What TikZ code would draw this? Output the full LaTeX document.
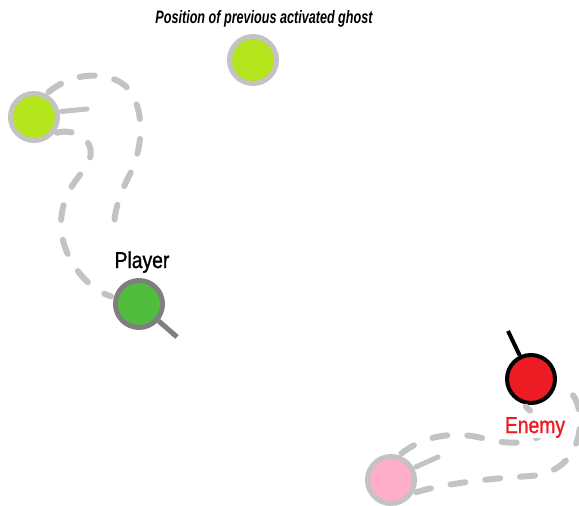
\documentclass[tikz,border=0pt]{standalone}
\usepackage{fontspec}
\usepackage{xcolor}
\usepackage{tikz}
\usetikzlibrary{positioning}
\newfontfamily\tagfont[FakeStretch=0.84, FakeBold=1.2]{Liberation Sans}
\newfontfamily\notefont[FakeStretch=0.7]{Liberation Sans}
\definecolor{ghostGreen}{HTML}{B5E61D}
\definecolor{ghostPink}{HTML}{FFAEC9}
\definecolor{ringGray}{HTML}{C3C3C3}
\definecolor{playerGreen}{HTML}{50BE3C}
\definecolor{playerRing}{HTML}{7F7F7F}
\definecolor{enemyRed}{HTML}{ED1C24}

\begin{document}
\begin{tikzpicture}[
    x=1pt, y=-1pt,
    token/.style={circle, inner sep=0pt, minimum size=47pt, line width=5pt},
    ghost/.style={token, fill=ghostGreen, draw=ringGray},
    trail/.style={draw=ringGray, line width=6pt, line cap=round, dash pattern=on 15pt off 20pt,
                  shorten <=3pt, shorten >=3pt},
    streak/.style={draw=ringGray, line width=5pt, line cap=round, shorten <=2pt},
    nametag/.style={inner sep=0pt, font=\tagfont\fontsize{23}{26}\selectfont},
]
\useasboundingbox (0,0) rectangle (579,506);
\clip (0,0) rectangle (579,506);

% Ghosts
\node[ghost] (ghostA) at (34,117) {};
\node[ghost] (ghostB) at (253,60) {};
\node[token, fill=ghostPink, draw=ringGray] (ghostC) at (391,480) {};
\node[above=7pt of ghostB, xshift=11pt, inner sep=0pt,
      font=\notefont\bfseries\itshape\fontsize{18}{20}\selectfont] (ghostNote) {Position of previous activated ghost};

% Player
\node[token, fill=playerGreen, draw=playerRing] (player) at (139,304) {};
\coordinate (playerAim) at (177,337);
\draw[playerRing, line width=5pt] (player) -- (playerAim);

% Enemy
\node[token, fill=enemyRed, draw=black, line width=4pt, minimum size=48pt] (enemy) at (531,379) {};
\coordinate (enemyAim) at (508,331);
\draw[black, line width=4pt] (enemy) -- (enemyAim);

% Trails
\coordinate (trailEndA) at (119,241);
\coordinate (streakEndA) at (87,109);
\coordinate (streakEndC) at (438,457);
\draw[trail] (ghostA.62) .. controls (75,70) and (115,70) .. (131,92)
    .. controls (145,115) and (143,150) .. (128,178)
    .. controls (117,200) and (110,225) .. (trailEndA);
\draw[trail] (ghostA.-40) .. controls (72,128) and (95,138) .. (90,158)
    .. controls (85,175) and (63,185) .. (61,222)
    .. controls (60,255) and (85,288) .. (player.165);
\draw[streak] (ghostA.12) -- (streakEndA);

\draw[trail] (ghostC.72) .. controls (425,435) and (455,430) .. (490,440)
    .. controls (515,446) and (548,442) .. (542,425)
    .. controls (538,415) and (528,410) .. (enemy.-105);
\draw[trail] (ghostC.-30) .. controls (450,482) and (500,478) .. (530,476)
    .. controls (560,474) and (578,455) .. (580,425)
    .. controls (581,400) and (570,388) .. (enemy.-12);
\draw[streak] (ghostC.28) -- (streakEndC);

% Names
\node[nametag, above=5pt of player, xshift=3pt] (playerName) {Player};
\node[nametag, text=enemyRed, fill=white, below=12pt of enemy, xshift=4pt] (enemyName) {Enemy};

\end{tikzpicture}
\end{document}
